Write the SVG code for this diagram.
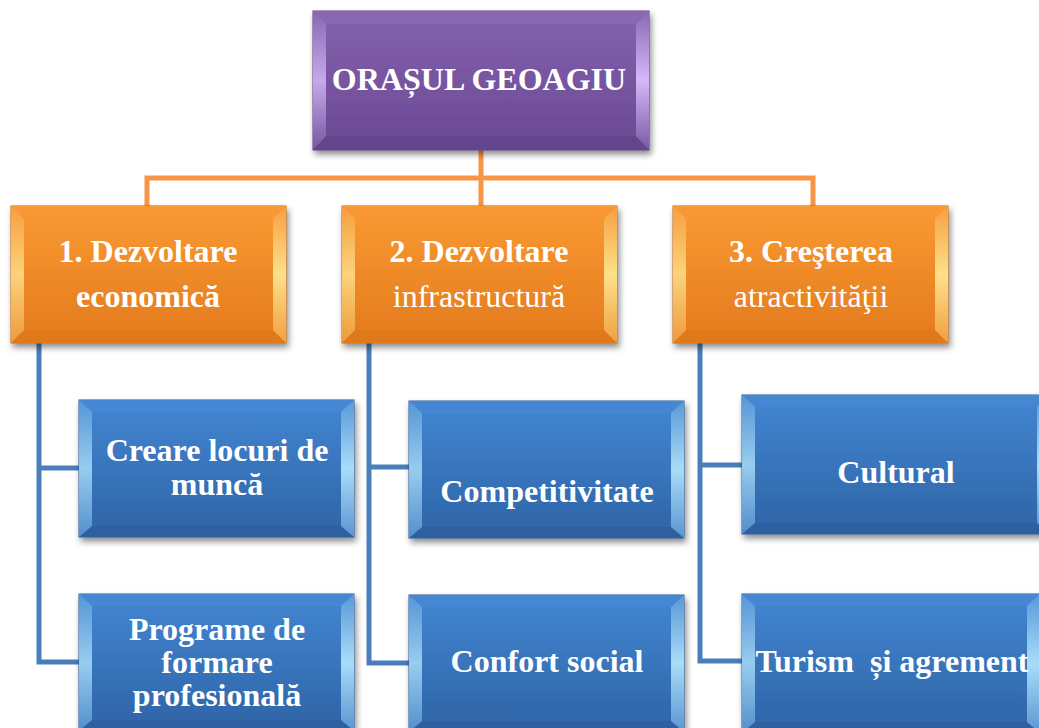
<svg xmlns="http://www.w3.org/2000/svg" xmlns:xlink="http://www.w3.org/1999/xlink" width="1039" height="728" viewBox="0 0 1039 728">
<style>
text{font-family:"Liberation Serif","Times New Roman",serif;fill:#ffffff;font-size:32px;text-anchor:middle}
.b{font-weight:bold}
.n{font-weight:normal}
.co{fill:none;stroke:#f79646;stroke-width:5;stroke-linejoin:miter}
.cb{fill:none;stroke:#4a7ebb;stroke-width:5;stroke-linejoin:miter}
</style>
<defs>
<filter id="sh" x="-10%" y="-10%" width="125%" height="130%">
<feDropShadow dx="2" dy="4" stdDeviation="3" flood-color="#000" flood-opacity="0.45"/>
</filter>
<linearGradient id="gP" x1="0" y1="0" x2="0" y2="1"><stop offset="0" stop-color="#8462ae"/><stop offset="1" stop-color="#6a4893"/></linearGradient>
<linearGradient id="gPb" x1="0" y1="0" x2="0" y2="1"><stop offset="0" stop-color="#8a68b4"/><stop offset="0.5" stop-color="#d4b8f8"/><stop offset="1" stop-color="#7a58a4"/></linearGradient>
<linearGradient id="gO" x1="0" y1="0" x2="0" y2="1"><stop offset="0" stop-color="#f99a33"/><stop offset="1" stop-color="#e47a1c"/></linearGradient>
<linearGradient id="gOb" x1="0" y1="0" x2="0" y2="1"><stop offset="0" stop-color="#f7a040"/><stop offset="0.5" stop-color="#fde08a"/><stop offset="1" stop-color="#f0a040"/></linearGradient>
<linearGradient id="gB" x1="0" y1="0" x2="0" y2="1"><stop offset="0" stop-color="#4286d2"/><stop offset="1" stop-color="#2e64a6"/></linearGradient>
<linearGradient id="gBb" x1="0" y1="0" x2="0" y2="1"><stop offset="0" stop-color="#5a98d8"/><stop offset="0.5" stop-color="#a8dcf8"/><stop offset="1" stop-color="#5a96d2"/></linearGradient>
<symbol id="boxP" width="336" height="139" overflow="visible">
<rect x="0" y="0" width="336" height="139" fill="url(#gP)" stroke="#5a3c80" stroke-width="1"/>
<polygon points="0,0 336,0 323,13 13,13" fill="#8868b2"/>
<polygon points="0,139 336,139 323,125 13,125" fill="#64458c"/>
<polygon points="0,0 13,13 13,125 0,139" fill="url(#gPb)" opacity="0.85"/>
<polygon points="336,0 323,13 323,125 336,139" fill="url(#gPb)"/>
</symbol>
<symbol id="boxO" width="275" height="137" overflow="visible">
<rect x="0" y="0" width="275" height="137" fill="url(#gO)" stroke="#c0661a" stroke-width="1"/>
<polygon points="0,0 275,0 262,13 13,13" fill="#f89835"/>
<polygon points="0,137 275,137 262,124 13,124" fill="#e0781c"/>
<polygon points="0,0 13,13 13,124 0,137" fill="url(#gOb)" opacity="0.85"/>
<polygon points="275,0 262,13 262,124 275,137" fill="url(#gOb)"/>
</symbol>
<symbol id="boxB" width="275" height="137" overflow="visible">
<rect x="0" y="0" width="275" height="137" fill="url(#gB)" stroke="#2a5a94" stroke-width="1"/>
<polygon points="0,0 275,0 262,12 13,12" fill="#4487d2"/>
<polygon points="0,137 275,137 262,126 13,126" fill="#2d61a1"/>
<polygon points="0,0 13,12 13,126 0,137" fill="url(#gBb)" opacity="0.85"/>
<polygon points="275,0 262,12 262,126 275,137" fill="url(#gBb)"/>
</symbol>
<symbol id="boxBW" width="308" height="139" overflow="visible">
<rect x="0" y="0" width="308" height="139" fill="url(#gB)" stroke="#2a5a94" stroke-width="1"/>
<polygon points="0,0 308,0 295,12 13,12" fill="#4487d2"/>
<polygon points="0,139 308,139 295,128 13,128" fill="#2d61a1"/>
<polygon points="0,0 13,12 13,128 0,139" fill="url(#gBb)" opacity="0.85"/>
<polygon points="308,0 295,12 295,128 308,139" fill="url(#gBb)"/>
</symbol>
<symbol id="boxBN" width="298" height="139" overflow="visible">
<rect x="0" y="0" width="298" height="139" fill="url(#gB)" stroke="#2a5a94" stroke-width="1"/>
<polygon points="0,0 298,0 285,12 13,12" fill="#4487d2"/>
<polygon points="0,139 298,139 285,128 13,128" fill="#2d61a1"/>
<polygon points="0,0 13,12 13,128 0,139" fill="url(#gBb)" opacity="0.85"/>
<polygon points="298,0 285,12 285,128 298,139" fill="url(#gBb)"/>
</symbol>
</defs>
<rect width="1039" height="728" fill="#ffffff"/>
<g id="connectors">
<path class="co" d="M147,206 V178 H813 V206"/>
<path class="co" d="M481,150 V206"/>
<path class="cb" d="M39,343 V662 H79"/>
<path class="cb" d="M39,468 H79"/>
<path class="cb" d="M369,343 V663 H410"/>
<path class="cb" d="M369,467 H410"/>
<path class="cb" d="M700,343 V661 H742"/>
<path class="cb" d="M700,465 H742"/>
</g>
<g id="root">
<use xlink:href="#boxP" href="#boxP" x="313" y="11" filter="url(#sh)"/>
<text class="b" x="479" y="90">ORAȘUL GEOAGIU</text>
</g>
<g id="n1">
<use xlink:href="#boxO" href="#boxO" x="11" y="206" filter="url(#sh)"/>
<text class="b" x="148" y="262">1. Dezvoltare</text>
<text class="b" x="148" y="307">economică</text>
</g>
<g id="n2">
<use xlink:href="#boxO" href="#boxO" x="342" y="206" filter="url(#sh)"/>
<text class="b" x="479" y="262">2. Dezvoltare</text>
<text class="n" x="479" y="307">infrastructură</text>
</g>
<g id="n3">
<use xlink:href="#boxO" href="#boxO" x="673" y="206" filter="url(#sh)"/>
<text class="b" x="811" y="262">3. Creşterea</text>
<text class="n" x="811" y="307">atractivităţii</text>
</g>
<g id="n1a">
<use xlink:href="#boxB" href="#boxB" x="79" y="400" filter="url(#sh)"/>
<text class="b" x="217" y="461">Creare locuri de</text>
<text class="b" x="217" y="495">muncă</text>
</g>
<g id="n1b">
<use xlink:href="#boxB" href="#boxB" x="79" y="594" filter="url(#sh)"/>
<text class="b" x="217" y="640">Programe de</text>
<text class="b" x="217" y="673">formare</text>
<text class="b" x="217" y="706">profesională</text>
</g>
<g id="n2a">
<use xlink:href="#boxB" href="#boxB" x="409" y="401" filter="url(#sh)"/>
<text class="b" x="547" y="502">Competitivitate</text>
</g>
<g id="n2b">
<use xlink:href="#boxB" href="#boxB" x="409" y="595" filter="url(#sh)"/>
<text class="b" x="547" y="672">Confort social</text>
</g>
<g id="n3a">
<use xlink:href="#boxBW" href="#boxBW" x="742" y="395" filter="url(#sh)"/>
<text class="b" x="896" y="483">Cultural</text>
</g>
<g id="n3b">
<use xlink:href="#boxBN" href="#boxBN" x="742" y="594" filter="url(#sh)"/>
<text class="b" x="892" y="672" xml:space="preserve">Turism  și agrement</text>
</g>
</svg>
